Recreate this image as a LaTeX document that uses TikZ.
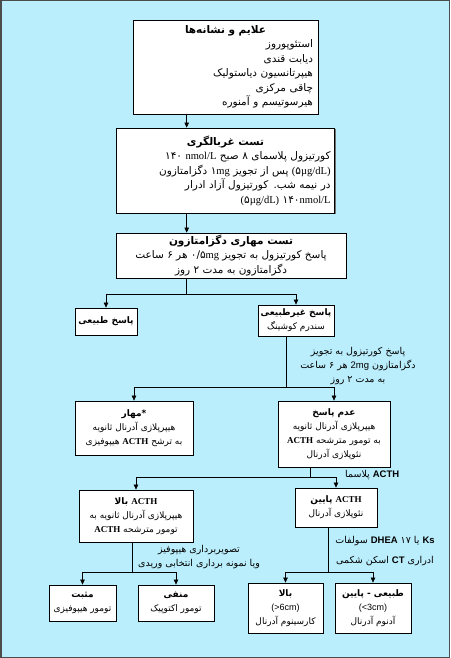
\documentclass[tikz,border=0pt]{standalone}
\usepackage{fontspec}
\setmainfont{Liberation Serif}
\setsansfont{Liberation Sans}
\newfontfamily\persian[Script=Arabic]{DejaVu Sans}
\TeXXeTstate=1
\usetikzlibrary{arrows.meta, positioning, calc, shadows}

\definecolor{bgblue}{RGB}{187,238,252}
\newcommand{\fa}[1]{{\persian\beginR #1\endR}}
\newcommand{\en}[1]{\beginL{\rmfamily #1}\endL}
\newcommand{\es}[1]{\beginL{\sffamily #1}\endL}
\newcommand{\nr}[1]{{\persian #1}}

\begin{document}
\begin{tikzpicture}[x=1pt, y=-1pt, >={Triangle[length=5pt, width=4.5pt]}]
  % Styles
  \tikzstyle{box} = [rectangle, draw, fill=white, line width=0.8pt, align=center, inner sep=1pt,
                     font={\fontsize{9}{14}\selectfont},
                     drop shadow={shadow xshift=1pt, shadow yshift=-1pt, fill=black!55, opacity=1}]
  \tikzstyle{big} = [font={\fontsize{10.5}{14.5}\selectfont}]
  \tikzstyle{line} = [draw, line width=0.6pt]
  \tikzstyle{flow} = [draw, ->, line width=0.6pt]
  \tikzstyle{note} = [align=center, inner sep=0pt, font={\fontsize{9.5}{14}\selectfont}]

  % Background
  \fill[bgblue] (0,0) rectangle (450,658);
  \draw[black!70, line width=1.5pt] (0.75,0.75) rectangle (449.25,657.25);
  \useasboundingbox (0,0) rectangle (450,658);

  % Tests
  \node[box, big, align=right, text width=175, inner sep=5pt, minimum height=94] (signs) at (225.5,67)
    {\makebox[\linewidth][c]{\fa{\bfseries علایم و نشانه‌ها}}\\ \fa{استئوپوروز}\\ \fa{دیابت قندی}\\
     \fa{هیپرتانسیون دیاستولیک}\\ \fa{چاقی مرکزی}\\ \fa{هیرسوتیسم و آمنوره}};
  \node[box, big, align=right, text width=210, inner sep=4pt, minimum height=85] (screen) at (225.5,170.5)
    {\makebox[\linewidth][c]{\fa{\bfseries تست غربالگری}}\\
     \fa{کورتیزول پلاسمای ۸ صبح \en{\nr{۱۴۰} nmol/L}}\\
     \fa{\en{(\nr{۵}µg/dL)} پس از تجویز \en{\nr{۱}mg} دگزامتازون}\\
     \fa{در نیمه شب. کورتیزول آزاد ادرار}\\
     \fa{\en{\nr{۱۴۰}nmol/L} \en{(\nr{۵}µg/dL)}}};
  \node[box, big, minimum width=230, minimum height=45] (dexa) at (231,255.5)
    {\fa{\bfseries تست مهاری دگزامتازون}\\
     \fa{پاسخ کورتیزول به تجویز \en{\nr{۰/۵}mg} هر ۶ ساعت}\\
     \fa{دگزامتازون به مدت ۲ روز}};

  % Cushing
  \node[box, minimum width=62, minimum height=27] (normal) at (106,321.5)
    {\fa{\bfseries پاسخ طبیعی}};
  \node[box, minimum width=76, minimum height=31] (abnormal) at (296,320.5)
    {\fa{\bfseries پاسخ غیرطبیعی}\\ \fa{سندرم کوشینگ}};
  \node[note] (highdose) at (358,366)
    {\fa{پاسخ کورتیزول به تجویز}\\ \fa{دگزامتازون \es{2mg} هر ۶ ساعت}\\ \fa{به مدت ۲ روز}};

  % High dose result
  \node[box, minimum width=118, minimum height=54] (suppr) at (134,428)
    {\fa{\bfseries\beginL*\endL{}مهار}\\ \fa{هیپرپلازی آدرنال ثانویه}\\ \fa{به ترشح \en{\bfseries ACTH} هیپوفیزی}};
  \node[box, minimum width=112, minimum height=66] (nosuppr) at (334,434)
    {\fa{\bfseries عدم پاسخ}\\ \fa{هیپرپلازی آدرنال ثانویه}\\ \fa{به تومور مترشحه \en{\bfseries ACTH}}\\ \fa{نئوپلازی آدرنال}};
  \node[note, anchor=west] (plasma) at (345,475) {\fa{\es{\bfseries ACTH} پلاسما}};

  % ACTH
  \node[box, minimum width=114, minimum height=52] (acthhigh) at (136,516)
    {\fa{\bfseries\en{ACTH} بالا}\\ \fa{هیپرپلازی آدرنال ثانویه به}\\ \fa{تومور مترشحه \en{\bfseries ACTH}}};
  \node[box, minimum width=82, minimum height=39] (acthlow) at (336,507.5)
    {\fa{\bfseries\en{ACTH} پایین}\\ \fa{نئوپلازی آدرنال}};
  \node[note] (imaging) at (199,557)
    {\fa{تصویربرداری هیپوفیز}\\ \fa{ویا نمونه برداری انتخابی وریدی}};
  \node[note, font={\fontsize{9.5}{20}\selectfont}] (urine) at (385,551)
    {\fa{\es{\bfseries Ks} یا ۱۷ \es{\bfseries DHEA} سولفات}\\ \fa{ادراری \es{\bfseries CT} اسکن شکمی}};

  % Final
  \node[box, minimum width=67, minimum height=36] (pos) at (82.5,603)
    {\fa{\bfseries مثبت}\\ \fa{تومور هیپوفیزی}};
  \node[box, minimum width=76, minimum height=36] (neg) at (176,603)
    {\fa{\bfseries منفی}\\ \fa{تومور اکتوپیک}};
  \node[box, minimum width=75, minimum height=50] (carc) at (285.5,608)
    {\fa{\bfseries بالا}\\ \es{(>6cm)}\\ \fa{کارسینوم آدرنال}};
  \node[box, minimum width=76, minimum height=50] (aden) at (373,608)
    {\fa{\bfseries طبیعی - پایین}\\ \es{(<3cm)}\\ \fa{آدنوم آدرنال}};

  % Junctions
  \coordinate (j1) at (186.7,294);
  \coordinate (j2) at (286,387);
  \coordinate (j3) at (310,477);
  \coordinate (j4) at (132,572);
  \coordinate (j5) at (328,572);

  % Connectors
  \draw[flow] (signs.south -| j1) -- (screen.north -| j1);
  \draw[flow] (screen.south -| j1) -- (dexa.north -| j1);
  \draw[line] (dexa.south -| j1) -- (j1);
  \draw[flow] (j1) -| (normal.north);
  \draw[flow] (j1) -| (abnormal.north);
  \draw[line] (abnormal.south -| j2) -- (j2);
  \draw[flow] (j2) -| (suppr.north);
  \draw[flow] (j2) -| (nosuppr.north);
  \draw[line] (nosuppr.south -| j3) -- (j3);
  \draw[flow] (j3) -| (acthhigh.north);
  \draw[flow] (j3) -| (acthlow.north);
  \draw[line] (acthhigh.south -| j4) -- (j4);
  \draw[flow] (j4) -| (pos.north);
  \draw[flow] (j4) -| (neg.north);
  \draw[line] (acthlow.south -| j5) -- (j5);
  \draw[flow] (j5) -| (carc.north);
  \draw[flow] (j5) -| (aden.north);
\end{tikzpicture}
\end{document}
